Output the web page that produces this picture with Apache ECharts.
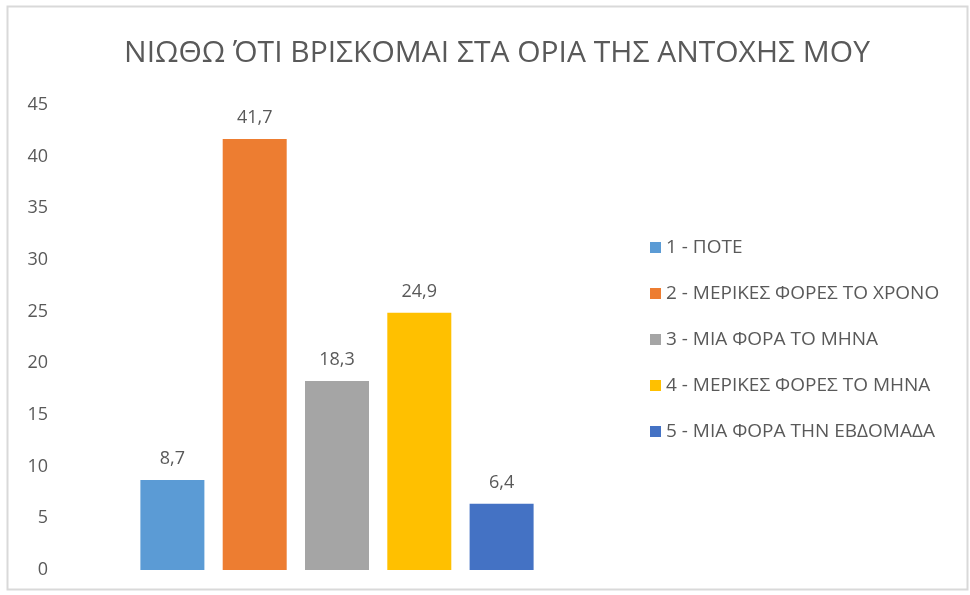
<!DOCTYPE html>
<html>
<head>
<meta charset="utf-8">
<script src="https://cdn.jsdelivr.net/npm/echarts@6/dist/echarts.min.js"></script>
<style>
  html, body { margin: 0; padding: 0; background: #ffffff; }
  #chart { width: 970px; height: 595px; }
</style>
</head>
<body>
<div id="chart"></div>
<script>
// Survey answers: one category, one bar per response option
const titleText = 'ΝΙΩΘΩ ΌΤΙ ΒΡΙΣΚΟΜΑΙ ΣΤΑ ΟΡΙΑ ΤΗΣ ΑΝΤΟΧΗΣ ΜΟΥ';
const categories = [''];
const seriesNames = [
  '1 - ΠΟΤΕ',
  '2 - ΜΕΡΙΚΕΣ ΦΟΡΕΣ ΤΟ ΧΡΟΝΟ',
  '3 - ΜΙΑ ΦΟΡΑ ΤΟ ΜΗΝΑ',
  '4 - ΜΕΡΙΚΕΣ ΦΟΡΕΣ ΤΟ ΜΗΝΑ',
  '5 - ΜΙΑ ΦΟΡΑ ΤΗΝ ΕΒΔΟΜΑΔΑ'
];
const seriesValues = [8.7, 41.7, 18.3, 24.9, 6.4];
const seriesColors = ['#5B9BD5', '#ED7D31', '#A5A5A5', '#FFC000', '#4472C4'];

const FONT = '"Open Sans", "Noto Sans", sans-serif';
const TEXT = '#595959';

const chart = echarts.init(document.getElementById('chart'), null, { renderer: 'canvas' });

const series = seriesNames.map((name, i) => ({
  name: name,
  type: 'bar',
  data: [seriesValues[i]],
  barWidth: 64,
  barGap: '28.6%',
  itemStyle: { color: seriesColors[i] },
  label: {
    show: true,
    position: 'top',
    distance: 12,
    color: TEXT,
    fontFamily: FONT,
    fontSize: 18,
    formatter: p => String(p.value).replace('.', ',')
  }
}));

chart.setOption({
  backgroundColor: '#ffffff',
  animation: false,
  title: {
    text: titleText,
    left: 492,
    textAlign: 'center',
    top: 33,
    textStyle: { color: TEXT, fontFamily: FONT, fontSize: 30, fontWeight: 'normal' }
  },
  legend: {
    orient: 'vertical',
    left: 645,
    top: 233,
    itemWidth: 11,
    itemHeight: 11,
    itemGap: 27,
    icon: 'rect',
    textStyle: { color: TEXT, fontFamily: FONT, fontSize: 19 },
    data: seriesNames
  },
  grid: { left: 60, right: 356, top: 105, bottom: 25 },
  xAxis: {
    type: 'category',
    data: categories,
    axisLine: { show: false },
    axisTick: { show: false },
    axisLabel: { show: false }
  },
  yAxis: {
    type: 'value',
    min: 0,
    max: 45,
    interval: 5,
    splitLine: { show: false },
    axisLine: { show: false },
    axisTick: { show: false },
    axisLabel: { color: TEXT, fontFamily: FONT, fontSize: 18, margin: 12 }
  },
  graphic: [{
    type: 'rect',
    shape: { x: 7.5, y: 6.5, width: 960, height: 583 },
    style: { fill: 'none', stroke: '#d9d9d9', lineWidth: 2 },
    silent: true
  }],
  series: series
});
</script>
</body>
</html>
